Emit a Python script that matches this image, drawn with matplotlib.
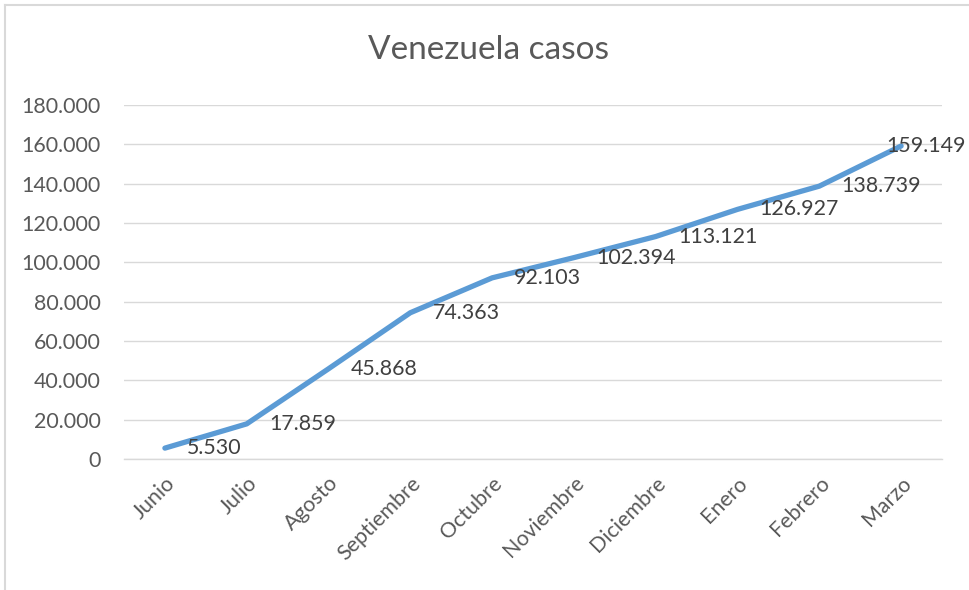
import matplotlib
matplotlib.use("agg")
import matplotlib.pyplot as plt
from matplotlib.lines import Line2D

months = ["Junio", "Julio", "Agosto", "Septiembre", "Octubre", "Noviembre",
          "Diciembre", "Enero", "Febrero", "Marzo"]
cases = [5530, 17859, 45868, 74363, 92103, 102394, 113121, 126927, 138739, 159149]
yticks = [0, 20000, 40000, 60000, 80000, 100000, 120000, 140000, 160000, 180000]

def fmt(v):
    return f"{v:,}".replace(",", ".")

plt.rcParams["font.family"] = ["Lato", "DejaVu Sans"]
text_color = "#595959"
grid_color = "#D9D9D9"
fs = 15.4

fig = plt.figure(figsize=(9.69, 5.90), dpi=100)
ax = fig.add_axes([124 / 969, 1 - 459 / 590, (942 - 124) / 969, (459 - 105) / 590])

x = list(range(len(months)))
ax.plot(x, cases, color="#5B9BD5", linewidth=3.8, solid_capstyle="round", zorder=3)

for i, (xi, v) in enumerate(zip(x, cases)):
    # the last label is pushed back inside the chart, as Excel does
    dx = 16 if i < len(cases) - 1 else -11
    ax.annotate(fmt(v), (xi, v), xytext=(dx, 0), textcoords="offset points",
                ha="left", va="center", fontsize=fs, color="#404040", zorder=4)

ax.set_xlim(-0.5, len(months) - 0.5)
ax.set_ylim(0, 180000)
ax.set_yticks(yticks)
ax.set_yticklabels([fmt(v) for v in yticks], fontsize=fs, color=text_color)
ax.set_xticks(x)
ax.set_xticklabels(months, rotation=45, ha="right", rotation_mode="anchor",
                   fontsize=fs, color=text_color)
ax.tick_params(axis="both", length=0)
ax.tick_params(axis="y", pad=17)
ax.tick_params(axis="x", pad=10)
ax.grid(axis="y", color=grid_color, linewidth=1)
ax.set_axisbelow(True)
for side in ["top", "right", "left"]:
    ax.spines[side].set_visible(False)
ax.spines["bottom"].set_color(grid_color)
ax.spines["bottom"].set_linewidth(1)

fig.text(488 / 969, 1 - 50 / 590, "Venezuela casos", ha="center", va="center",
         fontsize=24, color=text_color)

# outer chart frame (left and top edges visible in the original screenshot)
fig.add_artist(Line2D([5 / 969, 5 / 969], [0, 1 - 5 / 590], transform=fig.transFigure,
                      color="#D9D9D9", linewidth=1.5))
fig.add_artist(Line2D([5 / 969, 1], [1 - 5 / 590, 1 - 5 / 590], transform=fig.transFigure,
                      color="#D9D9D9", linewidth=1.5))

fig.savefig("out.png", dpi=100)
